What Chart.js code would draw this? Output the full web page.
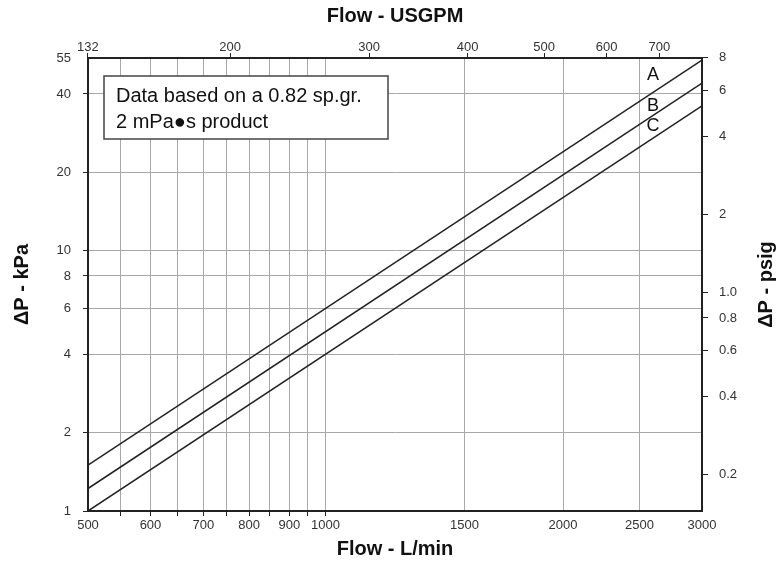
<!DOCTYPE html>
<html><head><meta charset="utf-8">
<script src="https://cdn.jsdelivr.net/npm/chart.js@4.4.0/dist/chart.umd.min.js"></script>
<style>html,body{margin:0;padding:0;background:#fff;} #wrap{width:779px;height:561px;}</style>
</head><body><div id="wrap"><canvas id="c" width="779" height="561"></canvas></div>
<script>
// ---- data ----
const flowLmin = [500, 3000];
const lineA = [1.5, 54];
const lineB = [1.22, 44];
const lineC = [1.0, 36];
const seriesNames = ['A', 'B', 'C'];
const bottomTicks = [500,550,600,650,700,750,800,850,900,950,1000,1500,2000,2500,3000];
const bottomLabels = ['500','','600','','700','','800','','900','','1000','1500','2000','2500','3000'];
const topTicks = [132,200,300,400,500,600,700];
const leftTicks = [1,2,4,6,8,10,20,40,55];
const rightTicks = [0.2,0.4,0.6,0.8,1,2,4,6,8];
const rightLabels = ['0.2','0.4','0.6','0.8','1.0','2','4','6','8'];
const noteLines = ['Data based on a 0.82 sp.gr.', '2 mPa\u25CFs product'];
const LPM_PER_GPM = 3.785411784;
const PSI_PER_KPA = 0.1450377;

const FONT = "'Liberation Sans', Arial, Helvetica, sans-serif";
Chart.defaults.font.family = FONT;
const DARK = '#222';
const GRID = '#a8a8a8';
const NONE = 'rgba(0,0,0,0)';

function pts(ys) { return flowLmin.map((x, i) => ({x: x, y: ys[i]})); }
const lineStyle = {borderColor: DARK, borderWidth: 1.5, pointRadius: 0, fill: false, tension: 0, xAxisID: 'x', yAxisID: 'y'};

const overlay = {
  id: 'overlay',
  afterDraw(chart) {
    const ctx = chart.ctx, ca = chart.chartArea;
    const xs = chart.scales.x, ys = chart.scales.y;
    ctx.save();
    // note box
    const bx = ca.left + 16, by = ca.top + 18, bw = 284, bh = 63;
    ctx.fillStyle = '#fff';
    ctx.fillRect(bx, by, bw, bh);
    ctx.strokeStyle = '#444';
    ctx.lineWidth = 1.5;
    ctx.strokeRect(bx, by, bw, bh);
    ctx.fillStyle = '#111';
    ctx.font = "20px " + FONT;
    ctx.textAlign = 'left';
    ctx.textBaseline = 'middle';
    ctx.fillText(noteLines[0], bx + 12, by + 20);
    ctx.fillText(noteLines[1], bx + 12, by + 46);
    // series labels
    ctx.font = "18px " + FONT;
    ctx.textAlign = 'center';
    const lx = xs.getPixelForValue(2600);
    const lyv = [47.9, 36.4, 30.3];
    seriesNames.forEach((n, i) => ctx.fillText(n, lx, ys.getPixelForValue(lyv[i]) + 1));
    // right axis title (reads bottom-to-top)
    ctx.font = "bold 20px " + FONT;
    ctx.translate(766, (ca.top + ca.bottom) / 2);
    ctx.rotate(-Math.PI / 2);
    ctx.fillText('\u0394P - psig', 0, 0);
    ctx.restore();
  }
};

new Chart(document.getElementById('c'), {
  type: 'line',
  data: {
    datasets: [
      Object.assign({label: seriesNames[0], data: pts(lineA)}, lineStyle),
      Object.assign({label: seriesNames[1], data: pts(lineB)}, lineStyle),
      Object.assign({label: seriesNames[2], data: pts(lineC)}, lineStyle)
    ]
  },
  options: {
    responsive: false,
    animation: false,
    devicePixelRatio: 1,
    layout: {padding: 0},
    plugins: {legend: {display: false}, tooltip: {enabled: false}},
    scales: {
      x: {
        type: 'logarithmic', position: 'bottom', min: 500, max: 3000,
        afterBuildTicks: s => { s.ticks = bottomTicks.map(v => ({value: v})); },
        afterFit: s => { s.height = 50; },
        ticks: {autoSkip: false, maxRotation: 0, minRotation: 0, padding: 2, color: '#333', font: {size: 13},
          callback: (v, i) => bottomLabels[i]},
        grid: {lineWidth: 1, tickLength: 5,
          color: c => (c.tick && (c.tick.value === 500 || c.tick.value === 3000)) ? NONE : GRID,
          tickColor: c => (c.tick && c.tick.value > 500 && c.tick.value <= 1000) ? DARK : NONE},
        border: {color: DARK, width: 2},
        title: {display: true, text: 'Flow - L/min', color: '#111', font: {size: 20, weight: 'bold'}, padding: 0}
      },
      x2: {
        type: 'logarithmic', position: 'top', min: 500 / LPM_PER_GPM, max: 3000 / LPM_PER_GPM,
        afterBuildTicks: s => { s.ticks = topTicks.map(v => ({value: v})); },
        afterFit: s => { s.height = 58; },
        ticks: {autoSkip: false, maxRotation: 0, minRotation: 0, padding: -2, color: '#333', font: {size: 13},
          callback: (v, i) => String(topTicks[i])},
        grid: {drawOnChartArea: false, tickLength: 5, color: DARK, tickColor: DARK},
        border: {color: DARK, width: 2},
        title: {display: true, text: 'Flow - USGPM', color: '#111', font: {size: 20, weight: 'bold'}, padding: {top: 4, bottom: 0}}
      },
      y: {
        type: 'logarithmic', position: 'left', min: 1, max: 55,
        afterBuildTicks: s => { s.ticks = leftTicks.map(v => ({value: v})); },
        afterFit: s => { s.width = 88; },
        ticks: {autoSkip: false, padding: 12, color: '#333', font: {size: 13},
          callback: (v, i) => String(leftTicks[i])},
        grid: {lineWidth: 1, tickLength: 5,
          color: c => (c.tick && (c.tick.value === 1 || c.tick.value === 55)) ? NONE : GRID,
          tickColor: c => (c.tick && c.tick.value === 55) ? NONE : DARK},
        border: {color: DARK, width: 2},
        title: {display: true, text: '\u0394P - kPa', color: '#111', font: {size: 20, weight: 'bold'}, padding: {top: 10, bottom: 0}}
      },
      y2: {
        type: 'logarithmic', position: 'right', min: 1 * PSI_PER_KPA, max: 55 * PSI_PER_KPA,
        afterBuildTicks: s => { s.ticks = rightTicks.map(v => ({value: v})); },
        afterFit: s => { s.width = 77; },
        ticks: {autoSkip: false, padding: 11, color: '#333', font: {size: 13},
          callback: (v, i) => rightLabels[i]},
        grid: {drawOnChartArea: false, tickLength: 6, color: DARK, tickColor: DARK},
        border: {color: DARK, width: 2},
        title: {display: false}
      }
    }
  },
  plugins: [overlay]
});
</script>
</body></html>
